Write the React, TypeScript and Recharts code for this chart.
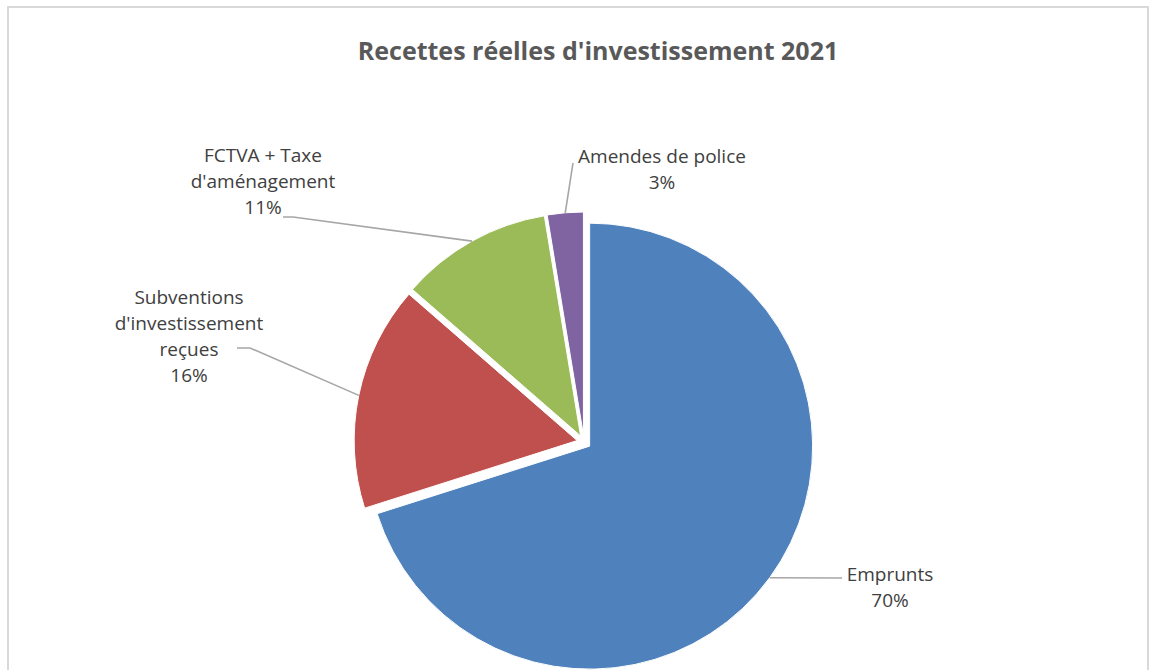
import { PieChart, Pie, Cell, Sector } from 'recharts';

// Recettes réelles d'investissement 2021 (part of total, %)
const categories = [
  'Emprunts',
  "Subventions d'investissement reçues",
  "FCTVA + Taxe d'aménagement",
  'Amendes de police',
];
const values = [70.1, 16.3, 11.0, 2.6];
const labelLines = [
  ['Emprunts'],
  ['Subventions', "d'investissement", 'reçues'],
  ['FCTVA + Taxe', "d'aménagement"],
  ['Amendes de police'],
];
const colors = ['#4F81BD', '#C0504D', '#9BBB59', '#8064A2'];

const title = "Recettes réelles d'investissement 2021";

// where each data label sits and how its leader line bends (x, y of text centre, elbow, end)
const labelLayout = [
  { x: 890, y: 574, elbow: [842, 578], end: [842, 578] },
  { x: 189, y: 297, elbow: [250, 348], end: [237, 348] },
  { x: 263, y: 155, elbow: [293, 217], end: [283, 217] },
  { x: 662, y: 156, elbow: [573, 163], end: [573, 163] },
];

const RADIAN = Math.PI / 180;
const EXPLODE = 7;
const LINE_H = 26;
const FONT = "'Open Sans', 'Noto Sans', sans-serif";

const data = categories.map((name, i) => ({ name, value: values[i] }));

function ExplodedSector(props: any) {
  const { cx, cy, midAngle } = props;
  const dx = EXPLODE * Math.cos(-midAngle * RADIAN);
  const dy = EXPLODE * Math.sin(-midAngle * RADIAN);
  return <Sector {...props} cx={cx + dx} cy={cy + dy} />;
}

function renderLabel(props: any) {
  const { cx, cy, midAngle, outerRadius, index, percent } = props;
  const r = outerRadius + EXPLODE;
  const sx = cx + r * Math.cos(-midAngle * RADIAN);
  const sy = cy + r * Math.sin(-midAngle * RADIAN);
  const lay = labelLayout[index];
  const lines = [...labelLines[index], `${Math.round(percent * 100)}%`];
  return (
    <g key={`lbl-${index}`}>
      <polyline
        points={`${sx},${sy} ${lay.elbow[0]},${lay.elbow[1]} ${lay.end[0]},${lay.end[1]}`}
        fill="none"
        stroke="#a6a6a6"
        strokeWidth={1.6}
      />
      <text
        x={lay.x}
        y={lay.y}
        textAnchor="middle"
        fill="#404040"
        fontFamily={FONT}
        fontSize={19}
      >
        {lines.map((t, k) => (
          <tspan key={k} x={lay.x} y={lay.y + k * LINE_H} dominantBaseline="central">
            {t}
          </tspan>
        ))}
      </text>
    </g>
  );
}

export default function App() {
  return (
    <div
      style={{
        position: 'fixed',
        left: 0,
        top: 0,
        width: 1149,
        height: 670,
        overflow: 'hidden',
        background: '#fff',
      }}
    >
      <div
        style={{
          position: 'absolute',
          left: 7,
          top: 6,
          width: 1138,
          height: 720,
          border: '2px solid #d9d9d9',
        }}
      />
      <div
        style={{
          position: 'absolute',
          left: 0,
          width: 1196,
          top: 33,
          textAlign: 'center',
          fontFamily: FONT,
          fontWeight: 700,
          fontSize: 25,
          color: '#595959',
          lineHeight: '34px',
        }}
      >
        {title}
      </div>
      <div style={{ position: 'absolute', left: 0, top: 0 }}>
        <PieChart width={1149} height={670} margin={{ top: 0, right: 0, bottom: 0, left: 0 }}>
          <Pie
            data={data}
            dataKey="value"
            nameKey="name"
            cx={584}
            cy={442}
            outerRadius={223}
            startAngle={90}
            endAngle={-270}
            stroke="#ffffff"
            strokeWidth={1}
            shape={ExplodedSector}
            label={renderLabel}
            labelLine={false}
            isAnimationActive={false}
          >
            {data.map((d, i) => (
              <Cell key={d.name} fill={colors[i]} />
            ))}
          </Pie>
        </PieChart>
      </div>
    </div>
  );
}
